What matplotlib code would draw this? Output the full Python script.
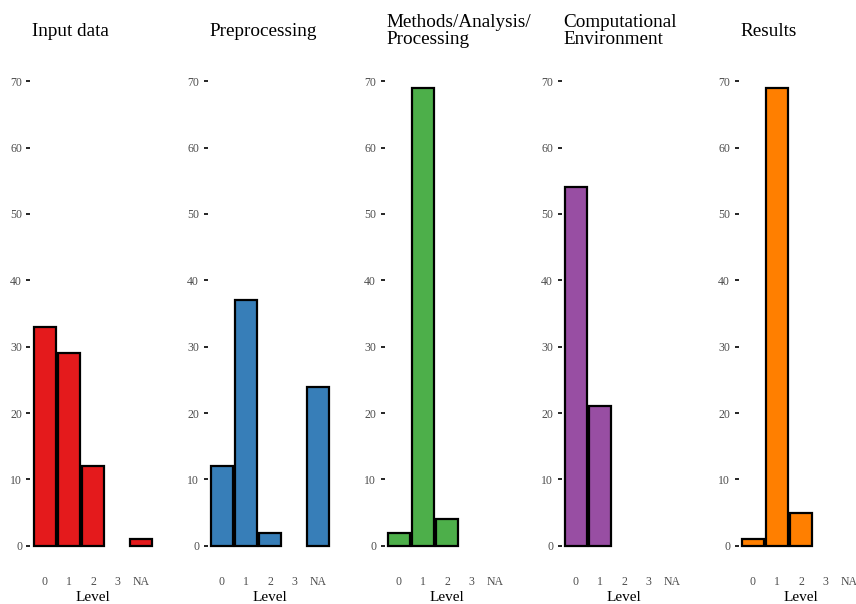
import matplotlib
matplotlib.use("Agg")
import matplotlib.pyplot as plt

plt.rcParams['font.family'] = ['Liberation Serif', 'DejaVu Serif']

levels = ["0", "1", "2", "3", "NA"]
titles = ["Input data", "Preprocessing", "Methods/Analysis/\nProcessing",
          "Computational\nEnvironment", "Results"]
input_data = [33, 29, 12, 0, 1]
preprocessing = [12, 37, 2, 0, 24]
methods = [2, 69, 4, 0, 0]
computational = [54, 21, 0, 0, 0]
results = [1, 69, 5, 0, 0]
series = [input_data, preprocessing, methods, computational, results]
colors = ["#E41A1C", "#377EB8", "#4DAF4A", "#984EA3", "#FF7F00"]
yticks = [0, 10, 20, 30, 40, 50, 60, 70]

W, H = 856, 604
fig = plt.figure(figsize=(W / 100, H / 100), dpi=100)

left0 = 30.5
step = 177
aw = 125
top_px = 58
bot_px = 569

for i, (vals, col, title) in enumerate(zip(series, colors, titles)):
    l = left0 + i * step
    ax = fig.add_axes([l / W, 1 - bot_px / H, aw / W, (bot_px - top_px) / H])
    xs = [j for j, v in enumerate(vals) if v > 0]
    hs = [v for v in vals if v > 0]
    ax.bar(xs, hs, width=0.9, color=col, edgecolor="black", linewidth=1.6)
    ax.set_xlim(-0.6, 4.6)
    ax.set_ylim(-3.5, 73.5)
    ax.set_xticks(range(len(levels)))
    ax.set_xticklabels(levels)
    ax.set_yticks(yticks)
    for s in ax.spines.values():
        s.set_visible(False)
    ax.tick_params(axis='x', length=0, labelsize=8.5, labelcolor="#4D4D4D", pad=5)
    ax.tick_params(axis='y', length=3, width=1.2, color="black",
                   labelsize=8.5, labelcolor="#4D4D4D", pad=3)
    ax.set_xlabel("Level", fontsize=11, labelpad=2)
    fig.text((l + 1.5) / W, 1 - 31 / H, title, fontsize=13.8, ha='left', va='center',
             linespacing=1.05)

fig.savefig("out.png", dpi=100)
